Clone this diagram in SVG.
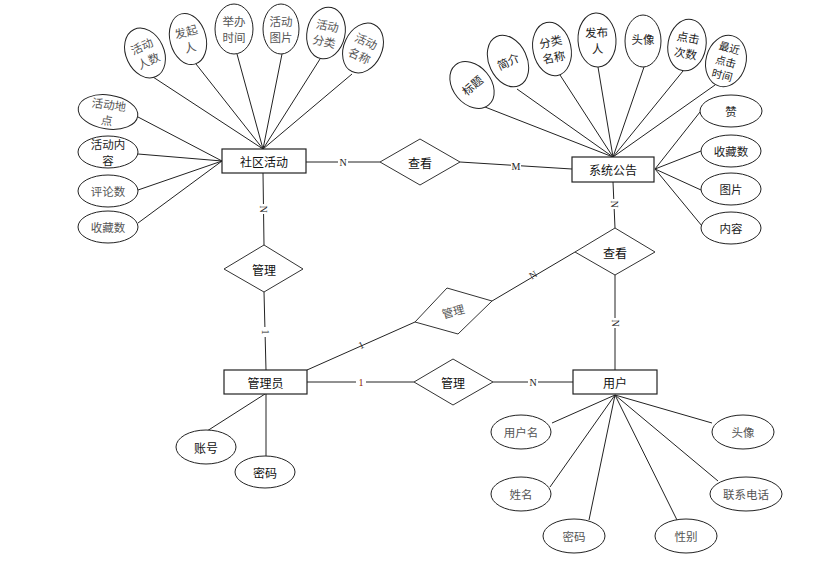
<svg xmlns="http://www.w3.org/2000/svg" width="835" height="561" viewBox="0 0 835 561">
<style>
text{font-family:"Noto Sans CJK SC","Liberation Sans",sans-serif;font-size:12px;fill:#111;text-anchor:middle;dominant-baseline:central}
.a{fill:#555;font-size:11.5px}
.b{fill:#222;font-size:11.5px}
.c{fill:#222;font-size:10.5px}
.ent{fill:#fff;stroke:#222;stroke-width:1.2}
.att{fill:#fff;stroke:#222;stroke-width:1}
.rel{fill:#fff;stroke:#333;stroke-width:1}
.ln{stroke:#222;stroke-width:1;fill:none}
.lb{font-family:"Liberation Serif",serif;font-size:10px;fill:#222}
</style>
<rect width="835" height="561" fill="#fff"/>
<g id="connectors">
<line class="ln" x1="153" y1="77" x2="263" y2="149"/>
<line class="ln" x1="196" y1="64" x2="263" y2="149"/>
<line class="ln" x1="237" y1="54" x2="263" y2="149"/>
<line class="ln" x1="282" y1="54" x2="263" y2="149"/>
<line class="ln" x1="320" y1="59" x2="263" y2="149"/>
<line class="ln" x1="352" y1="74" x2="263" y2="149"/>
<line class="ln" x1="138" y1="117" x2="222" y2="161"/>
<line class="ln" x1="138" y1="154" x2="222" y2="161"/>
<line class="ln" x1="138" y1="190" x2="222" y2="161"/>
<line class="ln" x1="138" y1="223" x2="222" y2="161"/>
<line class="ln" x1="485" y1="107" x2="613" y2="157"/>
<line class="ln" x1="517" y1="89" x2="613" y2="157"/>
<line class="ln" x1="560" y1="75" x2="613" y2="157"/>
<line class="ln" x1="598" y1="67" x2="613" y2="157"/>
<line class="ln" x1="644" y1="67" x2="613" y2="157"/>
<line class="ln" x1="683" y1="71" x2="613" y2="157"/>
<line class="ln" x1="715" y1="85" x2="613" y2="157"/>
<line class="ln" x1="700" y1="112" x2="655" y2="169"/>
<line class="ln" x1="701" y1="151" x2="655" y2="169"/>
<line class="ln" x1="701" y1="190" x2="655" y2="169"/>
<line class="ln" x1="702" y1="226" x2="655" y2="169"/>
<line class="ln" x1="306" y1="162" x2="380" y2="162"/>
<line class="ln" x1="460" y1="162" x2="572" y2="169"/>
<line class="ln" x1="263" y1="173" x2="264" y2="245"/>
<line class="ln" x1="264" y1="292" x2="266" y2="370"/>
<line class="ln" x1="613" y1="182" x2="615" y2="228"/>
<line class="ln" x1="615" y1="275" x2="615" y2="370"/>
<line class="ln" x1="575" y1="252" x2="492" y2="301"/>
<line class="ln" x1="415" y1="322" x2="307" y2="370"/>
<line class="ln" x1="307" y1="382" x2="414" y2="382"/>
<line class="ln" x1="493" y1="382" x2="573" y2="382"/>
<line class="ln" x1="265" y1="394" x2="207" y2="431"/>
<line class="ln" x1="266" y1="394" x2="266" y2="456"/>
<line class="ln" x1="552" y1="423" x2="615" y2="395"/>
<line class="ln" x1="550" y1="487" x2="615" y2="395"/>
<line class="ln" x1="589" y1="520" x2="615" y2="395"/>
<line class="ln" x1="677" y1="520" x2="615" y2="395"/>
<line class="ln" x1="718" y1="481" x2="615" y2="395"/>
<line class="ln" x1="712" y1="423" x2="615" y2="395"/>
<rect x="338" y="156" width="10" height="12" fill="#fff"/>
<text class="lb" x="343" y="162">N</text>
<rect x="511" y="160" width="10" height="12" fill="#fff"/>
<text class="lb" x="516" y="166">M</text>
<rect x="257" y="204" width="12" height="10" fill="#fff"/>
<text class="lb" x="263" y="209" transform="rotate(90 263 209)">N</text>
<rect x="260" y="327" width="10" height="10" fill="#fff"/>
<text class="lb" x="265" y="332" transform="rotate(90 265 332)">1</text>
<rect x="609" y="199" width="12" height="10" fill="#fff"/>
<text class="lb" x="614" y="204" transform="rotate(90 614 204)">N</text>
<rect x="609" y="318" width="12" height="10" fill="#fff"/>
<text class="lb" x="615" y="323" transform="rotate(90 615 323)">N</text>
<text class="lb" x="533" y="275" transform="rotate(-31 533 275)">N</text>
<text class="lb" x="361" y="345" transform="rotate(-24 361 345)">1</text>
<rect x="356" y="376" width="10" height="12" fill="#fff"/>
<text class="lb" x="361" y="382" style="fill:#8b1a00">1</text>
<rect x="528" y="376" width="10" height="12" fill="#fff"/>
<text class="lb" x="533" y="382">N</text>
</g>
<g id="e-shequhuodong"><rect class="ent" x="222" y="149" width="84" height="24"/><text x="264" y="161">社区活动</text></g>
<g id="e-xitonggonggao"><rect class="ent" x="572" y="157" width="82" height="25"/><text x="613" y="169.5">系统公告</text></g>
<g id="e-guanliyuan"><rect class="ent" x="224" y="370" width="83" height="24"/><text x="265.5" y="382">管理员</text></g>
<g id="e-yonghu"><rect class="ent" x="573" y="370" width="84" height="24"/><text x="615" y="382">用户</text></g>
<g id="r-chakan1"><polygon class="rel" points="380,162 420,139 460,162 420,185"/><text x="420" y="162">查看</text></g>
<g id="r-chakan2"><polygon class="rel" points="575,252 615,228 655,252 615,275"/><text x="615" y="252">查看</text></g>
<g id="r-guanli1"><polygon class="rel" points="224,269 264,245 303,269 264,292"/><text x="264" y="269">管理</text></g>
<g id="r-guanli2"><polygon class="rel" points="415,322 447,288 492,301 458,334"/><text x="453" y="311" class="a" transform="rotate(-15 453 311)">管理</text></g>
<g id="r-guanli3"><polygon class="rel" points="414,382 453,359 493,382 453,405"/><text x="453" y="382">管理</text></g>
<g id="a-huodongrenshu" transform="translate(145 53) rotate(-25)"><ellipse class="att" rx="19" ry="26"/><text class="a" y="-8">活动</text><text class="a" y="8">人数</text></g>
<g id="a-faqiren" transform="translate(188 39) rotate(-15)"><ellipse class="att" rx="18" ry="26"/><text class="a" y="-8">发起</text><text class="a" y="8">人</text></g>
<g id="a-jubanshijian" transform="translate(234 29)"><ellipse class="att" rx="19" ry="25"/><text class="a" y="-8">举办</text><text class="a" y="8">时间</text></g>
<g id="a-huodongtupian" transform="translate(281 29)"><ellipse class="att" rx="18" ry="25"/><text class="a" y="-8">活动</text><text class="a" y="8">图片</text></g>
<g id="a-huodongfenlei" transform="translate(326 33) rotate(12)"><ellipse class="att" rx="19" ry="26"/><text class="a" y="-8">活动</text><text class="a" y="8">分类</text></g>
<g id="a-huodongmingcheng" transform="translate(363 48) rotate(25)"><ellipse class="att" rx="19" ry="26"/><text class="a" y="-8">活动</text><text class="a" y="8">名称</text></g>
<g id="a-huodongdidian" transform="translate(108 112) rotate(8)"><ellipse class="att" rx="30" ry="17"/><text class="a" y="-8">活动地</text><text class="a" y="8">点</text></g>
<g id="a-huodongneirong" transform="translate(108 152)"><ellipse class="att" rx="30" ry="16"/><text class="b" y="-8">活动内</text><text class="b" y="8">容</text></g>
<g id="a-pinglunshu" transform="translate(108 191)"><ellipse class="att" rx="30" ry="16"/><text class="a">评论数</text></g>
<g id="a-shoucangshu1" transform="translate(108 227)"><ellipse class="att" rx="30" ry="16"/><text class="a">收藏数</text></g>
<g id="a-biaoti" transform="translate(472 85) rotate(-40)"><ellipse class="att" rx="19" ry="26"/><text class="b">标题</text></g>
<g id="a-jianjie" transform="translate(508 61) rotate(-25)"><ellipse class="att" rx="19" ry="27"/><text class="b">简介</text></g>
<g id="a-fenleimingcheng" transform="translate(552 49) rotate(-12)"><ellipse class="att" rx="19" ry="27"/><text class="b" y="-8">分类</text><text class="b" y="8">名称</text></g>
<g id="a-fabuiren" transform="translate(597 40) rotate(-3)"><ellipse class="att" rx="19" ry="27"/><text class="b" y="-8">发布</text><text class="b" y="8">人</text></g>
<g id="a-touxiang1" transform="translate(643 41)"><ellipse class="att" rx="18" ry="26"/><text class="b" y="-2">头像</text></g>
<g id="a-dianjicishu" transform="translate(687 45) rotate(10)"><ellipse class="att" rx="19" ry="26"/><text class="b" y="-8">点击</text><text class="b" y="8">次数</text></g>
<g id="a-zuijindianji" transform="translate(726 61) rotate(15)"><ellipse class="att" rx="20" ry="26"/><text class="c" y="-14">最近</text><text class="c" y="0">点击</text><text class="c" y="14">时间</text></g>
<g id="a-zan" transform="translate(731 111)"><ellipse class="att" rx="31" ry="16"/><text class="b">赞</text></g>
<g id="a-shoucangshu2" transform="translate(731 151)"><ellipse class="att" rx="30" ry="16"/><text class="b">收藏数</text></g>
<g id="a-tupian" transform="translate(731 189)"><ellipse class="att" rx="30" ry="16"/><text class="b">图片</text></g>
<g id="a-neirong" transform="translate(731 228)"><ellipse class="att" rx="30" ry="16"/><text class="b">内容</text></g>
<g id="a-zhanghao" transform="translate(206 447)"><ellipse class="att" rx="30" ry="17"/><text>账号</text></g>
<g id="a-mima1" transform="translate(265 472)"><ellipse class="att" rx="30" ry="16"/><text>密码</text></g>
<g id="a-yonghuming" transform="translate(521 432)"><ellipse class="att" rx="30" ry="17"/><text class="a">用户名</text></g>
<g id="a-xingming" transform="translate(521 494)"><ellipse class="att" rx="30" ry="17"/><text class="a">姓名</text></g>
<g id="a-mima2" transform="translate(574 536)"><ellipse class="att" rx="31" ry="17"/><text class="a">密码</text></g>
<g id="a-xingbie" transform="translate(686 536)"><ellipse class="att" rx="31" ry="17"/><text class="a">性别</text></g>
<g id="a-lianxidianhua" transform="translate(746 494)"><ellipse class="att" rx="36" ry="17"/><text class="a">联系电话</text></g>
<g id="a-touxiang2" transform="translate(743 432)"><ellipse class="att" rx="31" ry="17"/><text class="a">头像</text></g>
</svg>
